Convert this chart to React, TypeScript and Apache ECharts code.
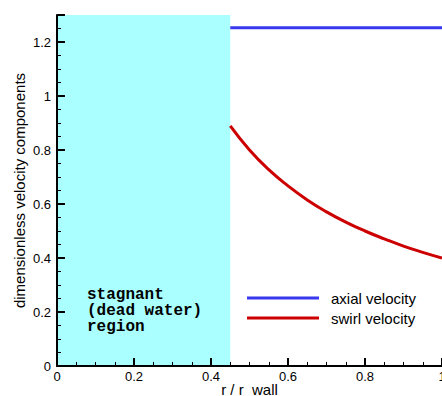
import React, { useEffect, useRef } from "react";
import * as echarts from "echarts";

const radius = [0.45, 0.5, 0.55, 0.6, 0.65, 0.7, 0.75, 0.8, 0.85, 0.9, 0.95, 1.0];
const swirl = [0.889, 0.8, 0.727, 0.667, 0.615, 0.571, 0.533, 0.5, 0.471, 0.444, 0.421, 0.4];
const axialR = [0.45, 1.0];
const axial = [1.253, 1.253];
const deadZone = [0, 0.45];
const regionText = ["stagnant", "(dead water)", "region"];

const FONT = "Liberation Sans, Arial, sans-serif";

export default function App() {
  const ref = useRef<HTMLDivElement>(null);
  useEffect(() => {
    document.body.style.margin = "0";
    const chart = echarts.init(ref.current!, null, { renderer: "svg" });
    chart.setOption({
      animation: false,
      backgroundColor: "#ffffff",
      grid: { left: 57, right: 0, top: 15, bottom: 30, containLabel: false, outerBoundsMode: "none" },
      legend: {
        data: ["axial velocity", "swirl velocity"],
        orient: "vertical",
        left: 242,
        top: 285,
        icon: "rect",
        itemWidth: 72,
        itemHeight: 3,
        itemGap: 4,
        textStyle: { fontFamily: FONT, fontSize: 15, color: "#000", lineHeight: 16, padding: [0, 0, 0, 7] },
      },
      xAxis: {
        type: "value",
        min: 0,
        max: 1,
        interval: 0.2,
        name: "r / r  wall",
        nameLocation: "middle",
        nameGap: 16,
        nameMoveOverlap: false,
        nameTextStyle: { fontFamily: FONT, fontSize: 15, color: "#000", verticalAlign: "top" },
        axisLine: { lineStyle: { color: "#000", width: 2 } },
        axisTick: { inside: true, length: 8, lineStyle: { color: "#000", width: 2 } },
        minorTick: { show: true, splitNumber: 4, length: 4, lineStyle: { color: "#000", width: 1 } },
        axisLabel: { fontFamily: FONT, fontSize: 13, color: "#000", margin: 4 },
        splitLine: { show: false },
        z: 10,
      },
      yAxis: {
        type: "value",
        min: 0,
        max: 1.3,
        interval: 0.2,
        name: "dimensionless velocity components",
        nameLocation: "middle",
        nameGap: 30,
        nameMoveOverlap: false,
        nameTextStyle: { fontFamily: FONT, fontSize: 15, color: "#000" },
        axisLine: { lineStyle: { color: "#000", width: 2 } },
        axisTick: { inside: true, length: 8, lineStyle: { color: "#000", width: 2 } },
        minorTick: { show: true, splitNumber: 4, length: 4, lineStyle: { color: "#000", width: 1 } },
        axisLabel: { fontFamily: FONT, fontSize: 13, color: "#000", margin: 6, showMaxLabel: false },
        splitLine: { show: false },
        z: 10,
      },
      series: [
        {
          name: "axial velocity",
          type: "line",
          data: axialR.map((r, i) => [r, axial[i]]),
          showSymbol: false,
          lineStyle: { color: "#3838ee", width: 3 },
          itemStyle: { color: "#3838ee" },
          markArea: {
            silent: true,
            itemStyle: { color: "#aaffff", opacity: 1 },
            data: [[{ xAxis: deadZone[0] }, { xAxis: deadZone[1] }]],
          },
          z: 3,
        },
        {
          name: "swirl velocity",
          type: "line",
          data: radius.map((r, i) => [r, swirl[i]]),
          smooth: true,
          showSymbol: false,
          lineStyle: { color: "#cc0000", width: 3 },
          itemStyle: { color: "#cc0000" },
          z: 3,
        },
      ],
      graphic: [
        {
          type: "text",
          left: 87,
          top: 287,
          z: 20,
          style: {
            text: regionText.join("\n"),
            fontFamily: "Liberation Mono, Courier New, monospace",
            fontWeight: "bold",
            fontSize: 16,
            lineHeight: 16,
            fill: "#000",
          },
        },
      ],
    });
    return () => chart.dispose();
  }, []);
  return <div ref={ref} style={{ width: 442, height: 396 }} />;
}
